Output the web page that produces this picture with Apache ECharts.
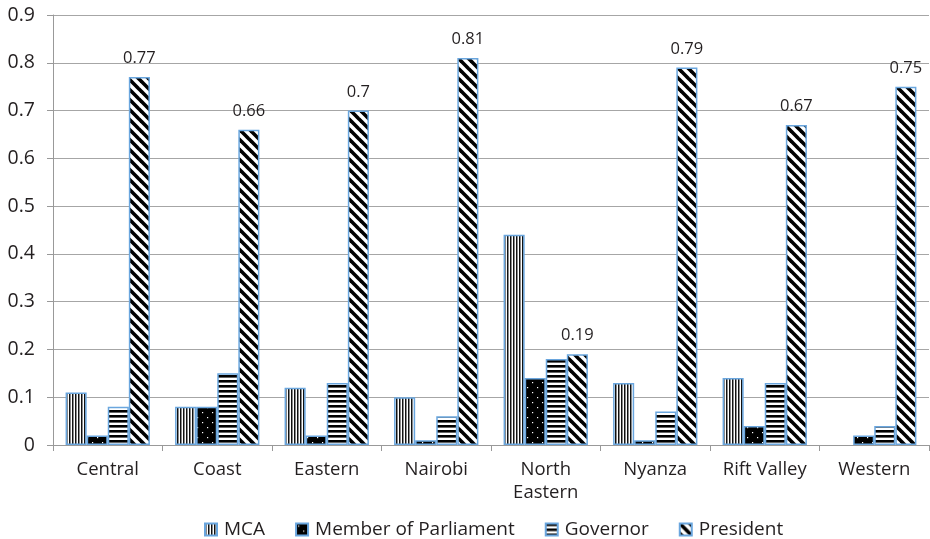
<!DOCTYPE html>
<html>
<head>
<meta charset="utf-8">
<script src="https://cdn.jsdelivr.net/npm/echarts@6/dist/echarts.min.js"></script>
<style>html,body{margin:0;padding:0;background:#fff;}#c{width:930px;height:539px;}</style>
</head>
<body>
<div id="c"></div>
<script>
const categories = ['Central','Coast','Eastern','Nairobi','North\nEastern','Nyanza','Rift Valley','Western'];
const seriesNames = ['MCA','Member of Parliament','Governor','President'];
const mca       = [0.11, 0.08, 0.12, 0.10, 0.44, 0.13, 0.14, 0];
const mp        = [0.02, 0.08, 0.02, 0.01, 0.14, 0.01, 0.04, 0.02];
const governor  = [0.08, 0.15, 0.13, 0.06, 0.18, 0.07, 0.13, 0.04];
const president = [0.77, 0.66, 0.70, 0.81, 0.19, 0.79, 0.67, 0.75];
const yTicks = ['0','0.1','0.2','0.3','0.4','0.5','0.6','0.7','0.8','0.9'];

function mk(w,h,draw){const c=document.createElement('canvas');c.width=w;c.height=h;const g=c.getContext('2d');g.fillStyle='#fff';g.fillRect(0,0,w,h);draw(g);return {image:c,repeat:'repeat'};}
const patVert = mk(3,4,g=>{g.fillStyle='#111';g.fillRect(0,0,1,4);g.fillStyle='#8a8a8a';g.fillRect(1,0,1,4);});
const patDots = mk(10,10,g=>{g.fillStyle='#000';g.fillRect(0,0,10,10);g.fillStyle='#fff';g.fillRect(2,2,1.2,1.2);g.fillRect(7,7,1.2,1.2);});
const patHoriz = mk(4,5,g=>{g.fillStyle='#000';g.fillRect(0,0,4,2.6);});
const patDiag = mk(10,10,g=>{g.strokeStyle='#000';g.lineWidth=3.6;g.lineCap='square';
  [[0,0,10,10],[-10,0,0,10],[0,-10,10,0]].forEach(l=>{g.beginPath();g.moveTo(l[0],l[1]);g.lineTo(l[2],l[3]);g.stroke();});});
const pats=[patVert,patDots,patHoriz,patDiag];
const datas=[mca,mp,governor,president];

const FONT='"Open Sans", "Noto Sans", sans-serif';
const TXT='#231f20';
const chart = echarts.init(document.getElementById('c'),null,{renderer:'canvas'});
chart.setOption({
  animation:false,
  backgroundColor:'#fff',
  grid:{left:53,right:1,top:15,bottom:94,containLabel:false},
  legend:{top:515,left:199,itemWidth:12,itemHeight:12,itemGap:30,
    textStyle:{fontFamily:FONT,fontSize:19,color:TXT,padding:[0,0,0,2]},
    data:seriesNames.map(n=>({name:n,icon:'rect'}))},
  xAxis:{type:'category',data:categories,
    axisLine:{lineStyle:{color:'#999',width:1}},
    axisTick:{show:true,length:6,lineStyle:{color:'#999'}},
    axisLabel:{fontFamily:FONT,fontSize:18.5,color:TXT,margin:13,lineHeight:23,interval:0}},
  yAxis:{type:'value',min:0,max:0.9,interval:0.1,
    axisLine:{show:true,lineStyle:{color:'#999'}},
    axisTick:{show:true,length:6,lineStyle:{color:'#999'}},
    splitLine:{lineStyle:{color:'#a6a6a6',width:1}},
    axisLabel:{fontFamily:FONT,fontSize:19.5,color:TXT,margin:18,formatter:(v,i)=>yTicks[i]}},
  series:datas.map((d,i)=>({
    name:seriesNames[i],type:'bar',
    data:d.map(v=>v===0?{value:0,itemStyle:{borderWidth:0}}:v),
    barGap:'0%',barCategoryGap:'23%',
    itemStyle:{color:pats[i],borderColor:'#6aa6de',borderWidth:1.5},
    label:{show:i===3,position:'top',distance:10,fontFamily:FONT,fontSize:16.5,color:TXT}
  }))
});
</script>
</body>
</html>
